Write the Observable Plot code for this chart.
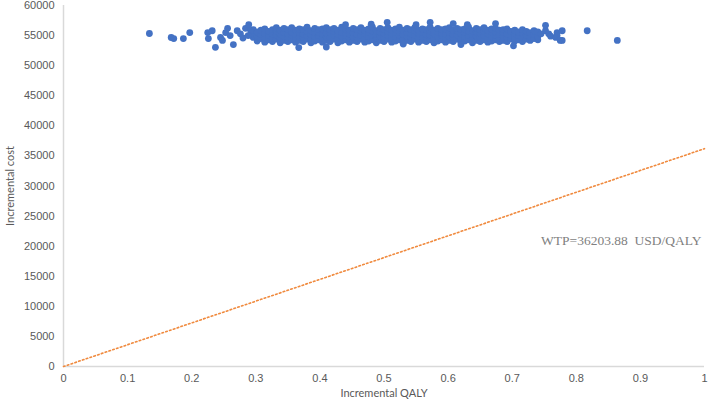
<!DOCTYPE html>
<html>
<head>
<meta charset="utf-8">
<script src="https://cdn.jsdelivr.net/npm/d3@7"></script>
<script src="https://cdn.jsdelivr.net/npm/@observablehq/plot@0.6"></script>
<style>
  html, body { margin: 0; padding: 0; background: #fff; }
  #chart { width: 708px; height: 400px; }
</style>
</head>
<body>
<div id="chart"></div>
<script>
// Willingness-to-pay threshold
const wtp = 36203.88;
const wtpLabel = "WTP=36203.88  USD/QALY";

// Axis ticks
const xTicks = [0, 0.1, 0.2, 0.3, 0.4, 0.5, 0.6, 0.7, 0.8, 0.9, 1];
const yTicks = [0, 5000, 10000, 15000, 20000, 25000, 30000, 35000, 40000, 45000, 50000, 55000, 60000];

// Dense cloud: [incremental QALY, [incremental costs at that QALY]]
const cloudColumns = [
  [0.296,[54700,55400,56000]],
  [0.302,[54100,54900,55600]],
  [0.308,[54500,55200,55900]],
  [0.314,[53900,54700,55400,56100]],
  [0.320,[54300,55000,55700]],
  [0.326,[54000,54600,55300,56000]],
  [0.332,[54400,55100,55800,56300]],
  [0.338,[53800,54600,55300,55900]],
  [0.344,[54200,54900,55500,56200]],
  [0.350,[54000,54700,55400,56000]],
  [0.356,[54300,55000,55600,56300]],
  [0.362,[53900,54500,55200,55900]],
  [0.368,[54200,54800,55500,56100]],
  [0.374,[54000,54700,55300,56000]],
  [0.380,[54400,55000,55700,56400]],
  [0.386,[53800,54500,55200,55800]],
  [0.392,[54100,54900,55500,56200]],
  [0.398,[54300,55000,55600,56000]],
  [0.404,[53900,54600,55300,56100]],
  [0.410,[54200,54800,55400,56300]],
  [0.416,[54000,54700,55500,56000]],
  [0.422,[54400,55100,55700,56200]],
  [0.428,[53800,54500,55200,55900]],
  [0.434,[54100,54900,55600,56400]],
  [0.440,[54300,55000,55400,56100]],
  [0.446,[53900,54600,55300,55900]],
  [0.452,[54200,54800,55500,56200]],
  [0.458,[54000,54700,55200,56000]],
  [0.464,[54400,55100,55800,56300]],
  [0.470,[53900,54500,55300,55900]],
  [0.476,[54100,54800,55500,56100]],
  [0.482,[54300,55000,55700,56400]],
  [0.488,[53800,54600,55200,55800]],
  [0.494,[54200,54900,55600,56200]],
  [0.500,[54000,54700,55400,56000]],
  [0.506,[54400,55000,55700,56300]],
  [0.512,[53900,54600,55300,55900]],
  [0.518,[54100,54800,55500,56100]],
  [0.524,[54300,55100,55600,56400]],
  [0.530,[53800,54500,55200,55900]],
  [0.536,[54200,54900,55500,56200]],
  [0.542,[54000,54700,55300,56000]],
  [0.548,[54400,55000,55800,56300]],
  [0.554,[53900,54600,55400,55900]],
  [0.560,[54200,54800,55500,56100]],
  [0.566,[54000,54700,55200,56000]],
  [0.572,[54300,55100,55700,56400]],
  [0.578,[53800,54500,55300,55900]],
  [0.584,[54100,54900,55600,56200]],
  [0.590,[54300,55000,55400,56000]],
  [0.596,[53900,54600,55300,56100]],
  [0.602,[54200,54800,55500,56300]],
  [0.608,[54000,54700,55200,55900]],
  [0.614,[54400,55100,55800,56200]],
  [0.620,[53900,54500,55300,56000]],
  [0.626,[54100,54800,55500,56100]],
  [0.632,[54300,55000,55700,56400]],
  [0.638,[53800,54600,55200,55800]],
  [0.644,[54200,54900,55600,56200]],
  [0.650,[54000,54700,55400,56000]],
  [0.656,[54300,55000,55700,56300]],
  [0.662,[53900,54600,55300,55900]],
  [0.668,[54100,54800,55500,56100]],
  [0.674,[54300,55100,55600,56200]],
  [0.680,[54000,54500,55200,55900]],
  [0.686,[54200,54900,55500,56000]],
  [0.692,[54000,54700,55300,56100]],
  [0.698,[54400,55000,55700]],
  [0.704,[54100,54600,55300,55900]],
  [0.710,[54300,55000,55600]],
  [0.716,[54000,54700,55400,56000]],
  [0.722,[54400,55100,55700]],
  [0.728,[54200,54800,55500]],
  [0.734,[54500,55200,55800]],
  [0.740,[54300,54900,55600]]
];

// Sparse points and outliers: [incremental QALY, incremental cost]
const sparsePoints = [
  [0.134,55350],[0.168,54680],[0.172,54500],[0.187,54500],[0.197,55500],
  [0.225,55500],[0.226,54500],[0.237,53050],[0.232,55800],[0.245,54700],
  [0.248,54200],[0.253,55500],[0.256,56200],[0.260,55000],[0.265,53500],
  [0.271,55800],[0.276,55300],[0.284,56200],[0.289,56800],[0.292,55800],
  [0.280,54600],[0.288,55000],[0.367,53000],[0.410,53100],[0.440,56800],
  [0.480,56900],[0.505,57200],[0.530,53600],[0.550,56800],[0.572,57200],
  [0.608,57000],[0.620,53500],[0.630,56800],[0.674,57000],[0.702,53300],
  [0.745,55300],[0.752,55800],[0.752,56700],[0.757,55300],[0.760,54900],
  [0.768,54700],[0.770,55500],[0.770,55000],[0.775,54200],[0.778,55800],
  [0.778,54200],[0.817,55800],[0.864,54200]
];

const points = [
  ...cloudColumns.flatMap(([q, costs]) => costs.map(c => ({q, c}))),
  ...sparsePoints.map(([q, c]) => ({q, c}))
];
const wtpLine = [0, 1].map(q => ({q, c: q * wtp}));

const chart = Plot.plot({
  width: 708,
  height: 400,
  marginLeft: 63,
  marginRight: 4,
  marginTop: 5,
  marginBottom: 34,
  style: { fontFamily: "Liberation Sans, Arial, sans-serif", fontSize: "10.5px", color: "#595959", background: "#fff" },
  x: { domain: [0, 1] },
  y: { domain: [0, 60000] },
  marks: [
    Plot.ruleX([0], { stroke: "#d9d9d9", strokeWidth: 1.5 }),
    Plot.ruleY([0], { stroke: "#d9d9d9", strokeWidth: 1.5 }),
    Plot.axisX({
      ticks: xTicks, tickSize: 0, tickPadding: 8,
      tickFormat: d => String(+d.toFixed(1)),
      fontSize: 11, fill: "#595959", label: null
    }),
    Plot.axisX({
      ticks: [], tickSize: 0,
      label: "Incremental QALY", labelAnchor: "center", labelArrow: "none", labelOffset: 30,
      fontFamily: "Lato, sans-serif", fontSize: 11, fill: "#595959"
    }),
    Plot.axisY({
      ticks: yTicks, tickSize: 0, tickPadding: 9,
      tickFormat: d => String(d),
      fontSize: 11, fill: "#595959", label: null
    }),
    Plot.axisY({
      ticks: [], tickSize: 0,
      label: "Incremental cost", labelAnchor: "center", labelArrow: "none", labelOffset: 57,
      fontFamily: "Lato, sans-serif", fontSize: 11, fill: "#595959"
    }),
    Plot.line(wtpLine, { x: "q", y: "c", stroke: "#F08A3E", strokeWidth: 1.6, strokeDasharray: "1.6,2.4" }),
    Plot.dot(points, { x: "q", y: "c", r: 3.4, fill: "#4472C4", stroke: "none" }),
    Plot.text([wtpLabel], { x: 0.745, y: 20940, text: d => d, textAnchor: "start", fontFamily: "Liberation Serif, Times New Roman, serif", fontSize: 13.5, fill: "#7f7f7f" })
  ]
});
document.getElementById("chart").append(chart);
</script>
</body>
</html>
